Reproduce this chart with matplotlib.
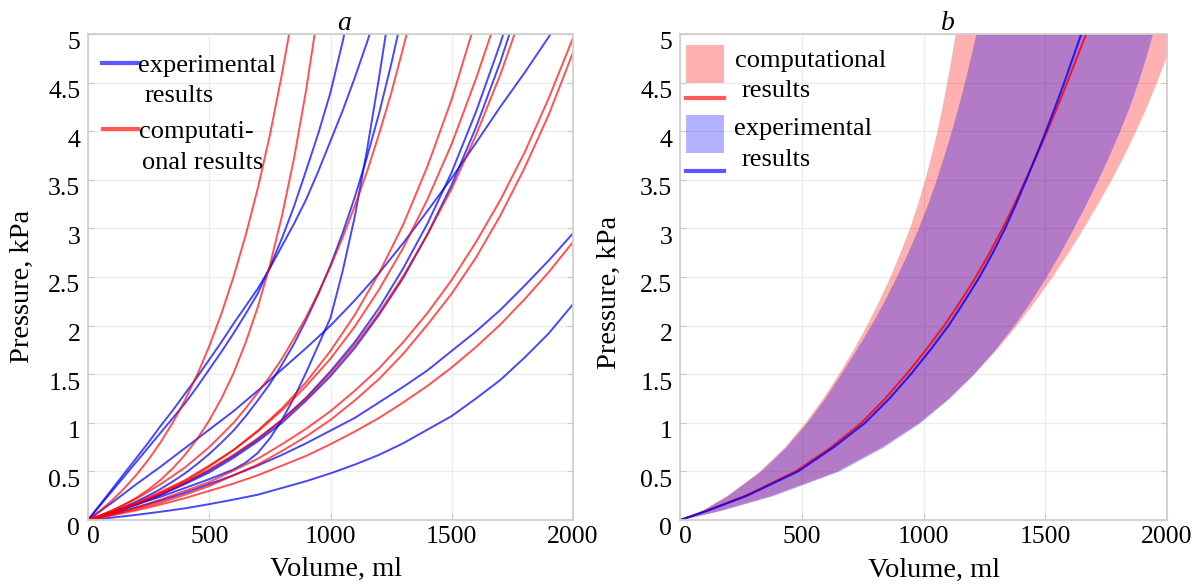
import numpy as np
import matplotlib
matplotlib.use('Agg')
import matplotlib.pyplot as plt
from matplotlib.lines import Line2D
from matplotlib.patches import Rectangle
from matplotlib.transforms import ScaledTranslation

plt.rcParams['font.family'] = ['Liberation Serif', 'DejaVu Serif']

# volume grids (ml) for the curves of panel a
vol = [0, 100, 200, 300, 400, 500, 600, 700, 800, 900, 1000,
       1100, 1200, 1300, 1400, 1500, 1600, 1700, 1800, 1900, 2000]
vol_fine = [0, 50, 100, 150, 200, 250, 300, 350, 400, 450, 500, 550, 600, 650,
            700, 750, 800, 850, 900, 950, 1000, 1050, 1100, 1150, 1200, 1250, 1300, 1350]

# panel a: pressure (kPa), experimental (blue); the steep ones on vol_fine
exp_1 = [0, 0.15, 0.30, 0.45, 0.60, 0.75, 0.90, 1.05, 1.20, 1.37, 1.55, 1.73, 1.92, 2.12,
         2.33, 2.60, 2.90, 3.23, 3.60, 3.98, 4.40, 4.92, 5.50]
exp_2 = [0, 0.16, 0.32, 0.48, 0.64, 0.80, 0.97, 1.13, 1.30, 1.47, 1.65, 1.83, 2.02, 2.20,
         2.38, 2.59, 2.82, 3.05, 3.30, 3.59, 3.90, 4.21, 4.55, 4.91, 5.30]
exp_3 = [0, 0.04, 0.08, 0.12, 0.16, 0.20, 0.24, 0.285, 0.33, 0.375, 0.42, 0.47, 0.52, 0.59,
         0.69, 0.84, 1.03, 1.26, 1.52, 1.80, 2.08, 2.56, 3.12, 3.80, 4.55, 5.35]
exp_4 = [0, 0.04, 0.086, 0.135, 0.19, 0.253, 0.32, 0.397, 0.48, 0.576, 0.68, 0.796, 0.92,
         1.067, 1.23, 1.40, 1.60, 1.815, 2.06, 2.325, 2.62, 2.954, 3.32, 3.73, 4.18, 4.686, 5.24]
# remaining experimental curves on vol
exp_5 = [0, 0.075, 0.16, 0.26, 0.38, 0.51, 0.66, 0.83, 1.03, 1.26, 1.53, 1.83, 2.18,
         2.59, 3.05, 3.58, 4.20, 4.90, 5.70]
exp_6 = [0, 0.074, 0.16, 0.26, 0.37, 0.49, 0.64, 0.81, 1.00, 1.23, 1.48, 1.77, 2.11,
         2.49, 2.94, 3.45, 4.04, 4.71, 5.47]
exp_7 = [0, 0.18, 0.37, 0.55, 0.74, 0.93, 1.12, 1.33, 1.55, 1.77, 2.00, 2.26, 2.54,
         2.85, 3.18, 3.52, 3.88, 4.25, 4.60, 4.97, 5.35]
exp_8 = [0, 0.062, 0.13, 0.20, 0.28, 0.37, 0.46, 0.56, 0.67, 0.79, 0.92, 1.05, 1.21,
         1.37, 1.54, 1.74, 1.94, 2.16, 2.41, 2.67, 2.95]
exp_9 = [0, 0.025, 0.053, 0.085, 0.12, 0.163, 0.21, 0.26, 0.33, 0.40, 0.48, 0.57, 0.67,
         0.79, 0.93, 1.07, 1.25, 1.44, 1.67, 1.92, 2.22]

# panel a: computational (red)
comp_1 = [0, 0.096, 0.204, 0.327, 0.466, 0.623, 0.802, 1.004, 1.234, 1.494, 1.788, 2.122,
          2.50, 2.928, 3.41, 3.96, 4.59, 5.29]
comp_2 = [0, 0.044, 0.096, 0.158, 0.23, 0.315, 0.414, 0.532, 0.67, 0.833, 1.024, 1.249,
          1.51, 1.825, 2.19, 2.62, 3.13, 3.725, 4.43, 5.25]
comp_3 = [0, 0.049, 0.10, 0.16, 0.22, 0.294, 0.37, 0.454, 0.54, 0.645, 0.75, 0.874, 1.00,
          1.149, 1.31, 1.477, 1.66, 1.871, 2.09, 2.341, 2.61, 2.905, 3.23, 3.58, 3.97,
          4.388, 4.86, 5.356]
comp_4 = [0, 0.08, 0.17, 0.28, 0.40, 0.55, 0.72, 0.92, 1.15, 1.42, 1.74, 2.11, 2.54,
          3.04, 3.64, 4.33, 5.15]
comp_5 = [0, 0.08, 0.18, 0.29, 0.41, 0.56, 0.72, 0.91, 1.13, 1.38, 1.66, 1.99, 2.37,
          2.80, 3.30, 3.87, 4.54, 5.28]
comp_6 = [0, 0.078, 0.17, 0.27, 0.385, 0.52, 0.67, 0.84, 1.03, 1.25, 1.51, 1.80, 2.13,
          2.51, 2.94, 3.41, 3.96, 4.58, 5.29]
comp_7 = [0, 0.061, 0.13, 0.21, 0.30, 0.39, 0.51, 0.63, 0.78, 0.94, 1.12, 1.33, 1.56,
          1.83, 2.13, 2.47, 2.86, 3.29, 3.78, 4.34, 4.96]
comp_8 = [0, 0.054, 0.115, 0.18, 0.26, 0.35, 0.46, 0.57, 0.71, 0.86, 1.03, 1.23, 1.45,
          1.71, 2.01, 2.33, 2.70, 3.13, 3.62, 4.17, 4.81]
comp_9 = [0, 0.048, 0.10, 0.16, 0.225, 0.30, 0.375, 0.46, 0.56, 0.66, 0.78, 0.91, 1.05,
          1.21, 1.38, 1.57, 1.78, 2.01, 2.27, 2.55, 2.86]

exp_fine = [exp_1, exp_2, exp_3, exp_4]
exp_coarse = [exp_5, exp_6, exp_7, exp_8, exp_9]
comp_fine = [comp_1, comp_2, comp_3]
comp_coarse = [comp_4, comp_5, comp_6, comp_7, comp_8, comp_9]

# panel b: bands given as volume (ml) at each pressure level (kPa)
p_levels = [0, 0.1, 0.25, 0.5, 0.75, 1.0, 1.25, 1.5, 1.75, 2.0, 2.25, 2.5, 2.75,
            3.0, 3.25, 3.5, 3.75, 4.0, 4.25, 4.5, 4.75, 5.0]
comp_left = [0, 90, 190, 325, 428, 512, 585, 650, 710, 765, 815, 862, 903,
             942, 975, 1005, 1031, 1055, 1076, 1095, 1113, 1130]
comp_right = [0, 165, 370, 640, 825, 978, 1100, 1205, 1297, 1380, 1456, 1527, 1593,
              1655, 1714, 1770, 1822, 1870, 1915, 1956, 1994, 2030]
exp_left = [0, 92, 195, 330, 435, 520, 594, 660, 723, 783, 838, 888, 935,
            978, 1017, 1052, 1084, 1114, 1142, 1168, 1192, 1215]
exp_right = [0, 170, 380, 650, 835, 985, 1105, 1205, 1292, 1370, 1440, 1503, 1561,
             1615, 1667, 1716, 1762, 1805, 1845, 1880, 1912, 1940]
comp_mean = [0, 115, 270, 475, 622, 745, 843, 930, 1010, 1085, 1152, 1215, 1272,
             1325, 1374, 1420, 1465, 1508, 1550, 1590, 1629, 1668]
exp_mean = [0, 117, 275, 485, 632, 760, 860, 948, 1028, 1103, 1168, 1230, 1285,
            1335, 1380, 1422, 1463, 1503, 1541, 1578, 1613, 1648]

xticks = [0, 500, 1000, 1500, 2000]
yticks = [0, 0.5, 1, 1.5, 2, 2.5, 3, 3.5, 4, 4.5, 5]
ytick_labels = ['0', '0.5', '1', '1.5', '2', '2.5', '3', '3.5', '4', '4.5', '5']

W, H = 1193, 585
fig = plt.figure(figsize=(W / 100, H / 100), dpi=100)


def fx(x):
    return x / W


def fy(y):
    return 1 - y / H


ax_a = fig.add_axes([fx(88), fy(520), (573 - 88) / W, (520 - 34) / H])
ax_b = fig.add_axes([fx(680), fy(520), (1167 - 680) / W, (520 - 34) / H])

blue = (0.0, 0.0, 1.0, 0.72)
red = (1.0, 0.0, 0.0, 0.68)

for p in exp_fine:
    ax_a.plot(vol_fine[:len(p)], p, color=blue, lw=1.4)
for p in exp_coarse:
    ax_a.plot(vol[:len(p)], p, color=blue, lw=1.4)
for p in comp_fine:
    ax_a.plot(vol_fine[:len(p)], p, color=red, lw=1.4)
for p in comp_coarse:
    ax_a.plot(vol[:len(p)], p, color=red, lw=1.4)

ax_b.fill_betweenx(p_levels, comp_left, comp_right, color='red', alpha=0.31, lw=0)
ax_b.fill_betweenx(p_levels, exp_left, exp_right, color='blue', alpha=0.3, lw=0)
ax_b.plot(comp_mean, p_levels, color=(1, 0, 0, 0.8), lw=1.5)
ax_b.plot(exp_mean, p_levels, color=(0, 0, 1, 0.8), lw=1.5)

down = ScaledTranslation(0, -5 / 72, fig.dpi_scale_trans)
right_nudge = ScaledTranslation(4 / 72, 0, fig.dpi_scale_trans)
for ax in (ax_a, ax_b):
    ax.set_xlim(0, 2000)
    ax.set_ylim(0, 5)
    ax.set_xticks(xticks)
    ax.set_xticklabels([str(t) for t in xticks])
    ax.set_yticks(yticks)
    ax.set_yticklabels(ytick_labels)
    ax.grid(True, color='#ececec', lw=1.0)
    ax.set_axisbelow(True)
    for s in ax.spines.values():
        s.set_color('#cfcfcf')
        s.set_linewidth(1.3)
    ax.tick_params(direction='in', length=4, color='#c8c8c8', labelsize=18.5,
                   right=True, top=False)
    ax.tick_params(axis='y', pad=5.5)
    ax.tick_params(axis='x', pad=4)
    for lab in ax.get_yticklabels():
        lab.set_transform(lab.get_transform() + down)
    first = ax.get_xticklabels()[0]
    first.set_transform(first.get_transform() + right_nudge)

# titles and axis labels
fig.text(fx(344), fy(30), 'a', fontsize=20, style='italic', ha='center', va='baseline')
fig.text(fx(948), fy(30), 'b', fontsize=20, style='italic', ha='center', va='baseline')
fig.text(fx(336), fy(576), 'Volume, ml', fontsize=20.5, ha='center', va='baseline')
fig.text(fx(934), fy(577), 'Volume, ml', fontsize=20.5, ha='center', va='baseline')
fig.text(fx(22), fy(286), 'Pressure, kPa', fontsize=20.5, rotation=90, ha='center', va='center')
fig.text(fx(609), fy(292), 'Pressure, kPa', fontsize=20.5, rotation=90, ha='center', va='center')

# legend, panel a
fig.add_artist(Line2D([fx(102), fx(138)], [fy(63), fy(63)], transform=fig.transFigure,
                      color=(0.35, 0.35, 1.0), lw=3))
fig.add_artist(Line2D([fx(103), fx(138)], [fy(129), fy(129)], transform=fig.transFigure,
                      color=(1.0, 0.35, 0.35), lw=3))
leg_kw = dict(fontsize=19, ha='left', va='baseline')
fig.text(fx(138), fy(72), 'experimental', **leg_kw)
fig.text(fx(145), fy(102), 'results', **leg_kw)
fig.text(fx(139), fy(138), 'computati-', **leg_kw)
fig.text(fx(142), fy(169), 'onal results', **leg_kw)

# legend, panel b
fig.add_artist(Rectangle((fx(686), fy(83)), 38 / W, 38 / H, transform=fig.transFigure,
                         color='red', alpha=0.31, lw=0))
fig.add_artist(Line2D([fx(686), fx(724)], [fy(98), fy(98)], transform=fig.transFigure,
                      color=(1.0, 0.35, 0.35), lw=3))
fig.add_artist(Rectangle((fx(686), fy(153)), 38 / W, 38 / H, transform=fig.transFigure,
                         color='blue', alpha=0.3, lw=0))
fig.add_artist(Line2D([fx(686), fx(724)], [fy(171), fy(171)], transform=fig.transFigure,
                      color=(0.35, 0.35, 1.0), lw=3))
fig.text(fx(735), fy(67), 'computational', **leg_kw)
fig.text(fx(742), fy(97), 'results', **leg_kw)
fig.text(fx(734), fy(135), 'experimental', **leg_kw)
fig.text(fx(742), fy(166), 'results', **leg_kw)

fig.savefig('out.png', dpi=100)
